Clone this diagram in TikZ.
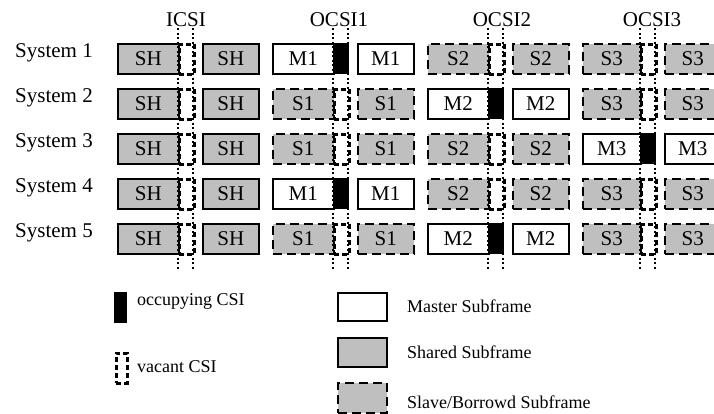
\documentclass[tikz,border=0pt]{standalone}
\usepackage{fontspec}
\setmainfont{Liberation Serif}
\tikzset{
  box/.style={anchor=north west, minimum height=30pt, inner sep=0pt, line width=1.6pt, font=\fontsize{21}{21}\selectfont},
  master/.style={box, draw=black, fill=white},
  shared/.style={box, draw=black, fill=black!25},
  slave/.style={box, draw=black, fill=black!25, dash pattern=on 9pt off 5pt},
  occ/.style={anchor=north west, minimum width=15pt, minimum height=30pt, inner sep=0pt, fill=black, draw=black, line width=0.4pt},
  vac/.style={anchor=north west, minimum width=15pt, minimum height=30pt, inner sep=0pt, draw=black, line width=2.6pt, dash pattern=on 5pt off 3pt},
  guide/.style={line width=1.5pt, dash pattern=on 2pt off 2.5pt},
  lab/.style={font=\fontsize{21}{21}\selectfont, inner sep=0pt},
  leg/.style={font=\fontsize{18}{18}\selectfont, inner sep=0pt, anchor=base west},
}
% #1 row, #2 group, #3 x, #4 width of first box, #5 type (H/M/S), #6 label
\newcommand\mkgrp[6]{%
  \pgfmathsetmacro\gy{43+45*(#1-1)}%
  \pgfmathsetmacro\cx{#3+#4}%
  \pgfmathsetmacro\bx{#3+#4+15+9}%
  \if#5M
    \node[master, minimum width=#4pt] (b#1-#2a) at (#3,\gy) {#6};
    \node[occ] (c#1-#2) at (\cx,\gy) {};
    \node[master, minimum width=56pt] (b#1-#2b) at (\bx,\gy) {#6};
  \else
    \if#5S
      \node[slave, minimum width=#4pt] (b#1-#2a) at (#3,\gy) {#6};
      \node[vac] (c#1-#2) at (\cx,\gy) {};
      \node[slave, minimum width=56pt] (b#1-#2b) at (\bx,\gy) {#6};
    \else
      \node[shared, minimum width=#4pt] (b#1-#2a) at (#3,\gy) {#6};
      \node[vac] (c#1-#2) at (\cx,\gy) {};
      \node[shared, minimum width=56pt] (b#1-#2b) at (\bx,\gy) {#6};
    \fi
  \fi}
\begin{document}
\begin{tikzpicture}[x=1pt, y=-1pt]
  \clip (0,0) rectangle (714,413);
  \fill[white] (0,0) rectangle (714,413);

  % top labels
  \node[lab, anchor=base] (icsi) at (186,26) {ICSI};
  \node[lab, anchor=base] (ocsi1) at (339,26) {OCSI1};
  \node[lab, anchor=base] (ocsi2) at (502,26) {OCSI2};
  \node[lab, anchor=base] (ocsi3) at (652,26) {OCSI3};

  % system labels
  \foreach \r in {1,...,5} {
    \node[lab, anchor=base west] (sys\r) at (15,{57+45*(\r-1)}) {System \r};
  }

  % subframes
  \foreach \r in {1,...,5} { \mkgrp{\r}{1}{117}{61}{H}{SH} }
  \foreach \r/\t in {1/M,2/S,3/S,4/M,5/S} { \mkgrp{\r}{2}{272}{61}{\t}{\t1} }
  \foreach \r/\t in {1/S,2/M,3/S,4/S,5/M} { \mkgrp{\r}{3}{427}{61}{\t}{\t2} }
  \foreach \r/\t in {1/S,2/S,3/M,4/S,5/S} { \mkgrp{\r}{4}{582}{58}{\t}{\t3} }

  % dotted CSI guide lines
  \foreach \g/\x in {1/178,2/333,3/488,4/640} {
    \coordinate (gt\g a) at (\x,28);
    \coordinate (gb\g a) at (\x,270);
    \coordinate (gt\g b) at (\x+15,28);
    \coordinate (gb\g b) at (\x+15,270);
    \draw[guide] (gt\g a) -- (gb\g a);
    \draw[guide] (gt\g b) -- (gb\g b);
  }

  % legend
  \node[occ, minimum width=12pt] (legocc) at (114,292) {};
  \node[leg] (legocct) at (137,305) {occupying CSI};
  \node[vac, minimum width=11pt] (legvac) at (115,352) {};
  \node[leg] (legvact) at (137,372) {vacant CSI};
  \node[master, minimum width=49pt, minimum height=28pt] (legm) at (337,292) {};
  \node[leg] (legmt) at (407,312) {Master Subframe};
  \node[shared, minimum width=49pt, minimum height=29pt] (legsh) at (337,337) {};
  \node[leg] (legsht) at (407,358) {Shared Subframe};
  \node[slave, minimum width=49pt] (legsl) at (337,382) {};
  \node[leg] (legslt) at (407,408) {Slave/Borrowd Subframe};
\end{tikzpicture}
\end{document}
